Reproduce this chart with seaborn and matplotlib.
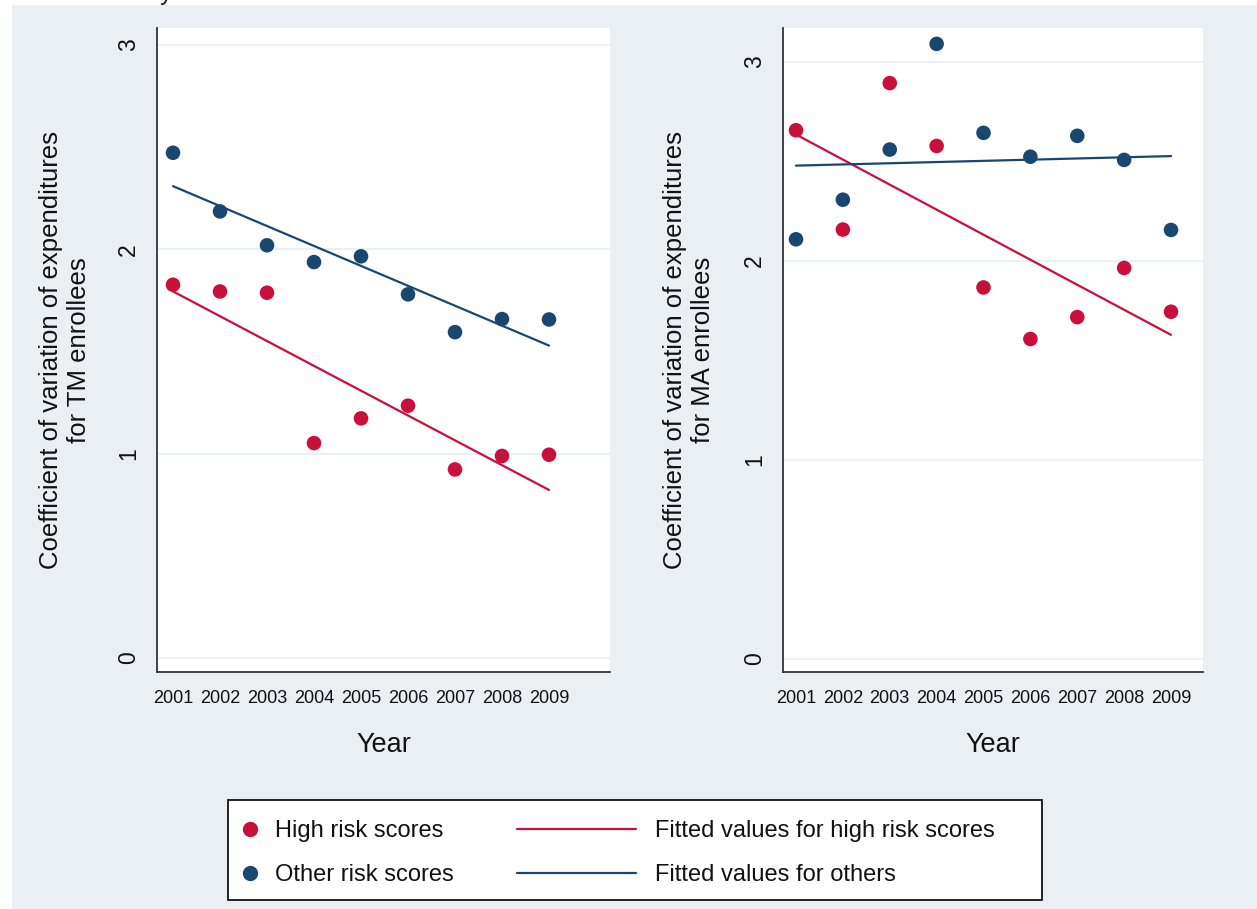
import numpy as np
import pandas as pd
import matplotlib
matplotlib.use("Agg")
import matplotlib.pyplot as plt
from matplotlib.patches import Rectangle
from matplotlib.lines import Line2D
import seaborn as sns

# ---------------- data ----------------
years = [2001, 2002, 2003, 2004, 2005, 2006, 2007, 2008, 2009]
tm_high = [1.827, 1.794, 1.788, 1.052, 1.173, 1.235, 0.923, 0.989, 0.995]
tm_other = [2.473, 2.186, 2.020, 1.938, 1.966, 1.780, 1.595, 1.659, 1.657]
ma_high = [2.657, 2.158, 2.894, 2.578, 1.867, 1.608, 1.718, 1.965, 1.745]
ma_other = [2.109, 2.308, 2.560, 3.091, 2.644, 2.524, 2.629, 2.508, 2.156]
yticks = [0, 1, 2, 3]
ylabels = ["Coefficient of variation of expenditures\nfor TM enrollees",
           "Coefficient of variation of expenditures\nfor MA enrollees"]
xlabel = "Year"
legend_points = ["High risk scores", "Other risk scores"]
legend_lines = ["Fitted values for high risk scores", "Fitted values for others"]

RED = "#c8103a"
BLUE = "#1a476f"
BG = "#e9eff2"
GRID = "#e6eef1"
AXC = "#333333"

sns.set_style("white")
plt.rcParams["font.family"] = ["Liberation Sans", "DejaVu Sans"]

W, H = 1257, 909
fig = plt.figure(figsize=(W / 100, H / 100), dpi=100, facecolor="white")
fig.patches.append(Rectangle((12 / W, 0), 1 - 12 / W, 1 - 5 / H, transform=fig.transFigure,
                             facecolor=BG, edgecolor="none", zorder=-5))
fig.text(160 / W, 1.0, "y", fontsize=18, va="baseline", ha="left")


def make_panel(rect, high, other, ylim, xlim, ylabel, labx):
    L, R, T, B = rect
    ax = fig.add_axes([L / W, 1 - B / H, (R - L) / W, (B - T) / H])
    ax.set_facecolor("white")
    df = pd.DataFrame({"year": years * 2, "cv": high + other,
                       "group": ["High"] * len(years) + ["Other"] * len(years)})
    for g, col in (("High", RED), ("Other", BLUE)):
        sub = df[df["group"] == g]
        sns.regplot(data=sub, x="year", y="cv", ax=ax, scatter=False, ci=None,
                    truncate=True, color=col, line_kws={"lw": 1.6, "zorder": 3})
    sns.scatterplot(data=df, x="year", y="cv", hue="group", palette={"High": RED, "Other": BLUE},
                    s=110, edgecolor="none", legend=False, ax=ax, zorder=4)
    ax.set_xlim(*xlim)
    ax.set_ylim(*ylim)
    ax.set_yticks(yticks)
    ax.set_yticklabels([str(t) for t in yticks], rotation=90, va="center")
    ax.set_xticks(years)
    ax.set_xticklabels([str(y) for y in years])
    ax.grid(axis="y", color=GRID, lw=1.2, zorder=0)
    ax.set_axisbelow(True)
    for s in ("top", "right"):
        ax.spines[s].set_visible(False)
    for s in ("left", "bottom"):
        ax.spines[s].set_color(AXC)
        ax.spines[s].set_linewidth(1.3)
    ax.tick_params(axis="both", length=6, width=1.1, color=AXC, labelcolor="#111111")
    ax.tick_params(axis="y", pad=6, labelsize=16.5)
    ax.tick_params(axis="x", pad=7, labelsize=13)
    ax.set_xlabel(xlabel, fontsize=19.5, color="#111111")
    ax.xaxis.set_label_coords(0.5, (672 - 745) / (B - T))
    ax.xaxis.label.set_va("center")
    ax.set_ylabel(ylabel, fontsize=18.5, color="#111111", ha="center", va="center",
                  multialignment="center", linespacing=1.22)
    ax.yaxis.set_label_coords((labx - L) / (R - L), 0.5)
    return ax


make_panel((157, 610, 28, 672), tm_high, tm_other,
           ((672 - 658) / -204.3, (658 - 28) / 204.3),
           (2001 - 16 / 47, 2009 + 61 / 47), ylabels[0], 65)
make_panel((783, 1203, 28, 672), ma_high, ma_other,
           ((672 - 659) / -199.0, (659 - 28) / 199.0),
           (2001 - 13 / 46.9, 2009 + 32 / 46.9), ylabels[1], 689)

# legend box
fig.patches.append(Rectangle((228 / W, 1 - 900 / H), 814 / W, 100 / H, transform=fig.transFigure,
                             facecolor="white", edgecolor="#111111", lw=1.3, zorder=1))
pt_handles = [Line2D([], [], marker="o", ls="none", color=c, markersize=10) for c in (RED, BLUE)]
ln_handles = [Line2D([], [], color=c, lw=1.6) for c in (RED, BLUE)]
fs = 17
leg1 = fig.legend(pt_handles, legend_points, loc="center left", bbox_to_anchor=(238 / W, 1 - 853 / H),
                  frameon=False, fontsize=fs, handlelength=1.0, handletextpad=0.57,
                  borderpad=0, borderaxespad=0, labelspacing=0.95)
leg2 = fig.legend(ln_handles, legend_lines, loc="center left", bbox_to_anchor=(517 / W, 1 - 853 / H),
                  frameon=False, fontsize=fs, handlelength=5.04, handletextpad=0.8,
                  borderpad=0, borderaxespad=0, labelspacing=0.95)
for lg in (leg1, leg2):
    lg.set_zorder(5)
    for t in lg.get_texts():
        t.set_color("#111111")

fig.savefig("out.png", dpi=100, facecolor=fig.get_facecolor())
